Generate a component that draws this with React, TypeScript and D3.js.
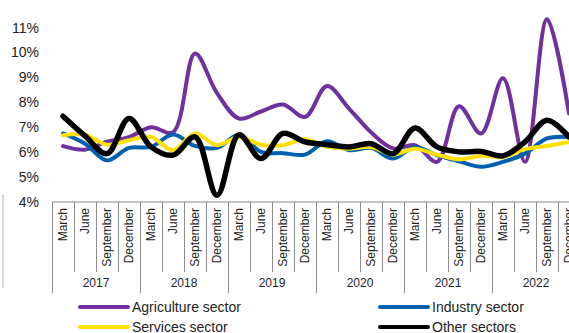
import React from "react";
import * as d3 from "d3";

const years = ["2017", "2018", "2019", "2020", "2021", "2022"];
const quarters = ["March", "June", "September", "December"];
const yTicks = [4, 5, 6, 7, 8, 9, 10, 11];

const agriculture = [6.24, 6.1, 6.42, 6.6, 7.0, 6.8, 9.96, 8.37, 7.35, 7.63, 7.91, 7.41, 8.65, 7.75, 6.8, 6.15, 6.28, 5.61, 7.84, 6.75, 8.96, 5.61, 11.33, 7.55];
const industry = [6.75, 6.34, 5.67, 6.17, 6.21, 6.71, 6.25, 6.17, 6.7, 6.01, 5.96, 5.9, 6.44, 6.08, 6.17, 5.74, 6.21, 5.88, 5.63, 5.41, 5.61, 5.94, 6.55, 6.61];
const services = [6.68, 6.7, 6.3, 6.48, 6.61, 6.08, 6.75, 6.28, 6.61, 6.3, 6.28, 6.52, 6.21, 6.14, 6.21, 5.9, 6.14, 5.9, 5.71, 5.85, 5.8, 6.12, 6.25, 6.41];
const other = [7.44, 6.65, 5.94, 7.35, 6.21, 5.88, 6.61, 4.27, 6.7, 5.74, 6.75, 6.41, 6.3, 6.21, 6.34, 5.94, 6.97, 6.21, 6.01, 6.03, 5.85, 6.41, 7.28, 6.61];

const seriesNames = ["Agriculture sector", "Industry sector", "Services sector", "Other sectors"];
const seriesColors = ["#7030A0", "#0060B0", "#FFE000", "#000000"];
const seriesWidths = [4, 4, 4, 5.5];
const seriesData = [agriculture, industry, services, other];

const FONT = "'Liberation Sans', Arial, sans-serif";

export default function App() {
  const W = 569, H = 333;
  const left = 52, cell = 22;
  const n = years.length * quarters.length;
  const x = d3.scaleLinear().domain([0, n]).range([left, left + cell * n]);
  const y = d3.scaleLinear().domain([4, 11]).range([202, 27.5]);
  const axisY = y(4);
  const line = d3
    .line<number>()
    .x((_, i) => x(i + 0.5))
    .y((d) => y(d))
    .curve(d3.curveCatmullRom.alpha(0.5));
  const grey = "#8c8c8c";

  const legendItems = [
    { name: seriesNames[0], color: seriesColors[0], lx: 80, ly: 307 },
    { name: seriesNames[1], color: seriesColors[1], lx: 380, ly: 307 },
    { name: seriesNames[2], color: seriesColors[2], lx: 80, ly: 327 },
    { name: seriesNames[3], color: seriesColors[3], lx: 380, ly: 327 },
  ];

  return (
    <div style={{ position: "fixed", left: 0, top: 0 }}>
      <svg width={W} height={H} style={{ display: "block", background: "#fff" }} fontFamily={FONT}>
        {/* left outer border fragment */}
        <line x1={3} x2={3} y1={195} y2={288} stroke="#b0b0b0" strokeWidth={1} />
        {/* y tick labels */}
        {yTicks.map((t) => (
          <text key={t} x={39} y={y(t)} textAnchor="end" dominantBaseline="central" fontSize={14} fill="#222">
            {t}%
          </text>
        ))}
        {/* category axis */}
        <line x1={left} x2={W + 20} y1={axisY} y2={axisY} stroke={grey} strokeWidth={1} />
        {d3.range(n + 1).map((i) => (
          <line
            key={"v" + i}
            x1={Math.round(x(i)) + 0.5}
            x2={Math.round(x(i)) + 0.5}
            y1={axisY}
            y2={i % 4 === 0 ? 293 : 272}
            stroke={grey}
            strokeWidth={1}
          />
        ))}
        {d3.range(n).map((i) => (
          <text
            key={"m" + i}
            transform={`translate(${x(i + 0.5)},${208}) rotate(-90)`}
            textAnchor="end"
            dominantBaseline="central"
            fontSize={12}
            fill="#222"
          >
            {quarters[i % 4]}
          </text>
        ))}
        {years.map((yr, k) => (
          <text key={yr} x={x(k * 4 + 2)} y={287} textAnchor="middle" fontSize={12} fill="#222">
            {yr}
          </text>
        ))}
        {/* series */}
        {seriesData.map((d, k) => (
          <path
            key={seriesNames[k]}
            d={line(d) || ""}
            fill="none"
            stroke={seriesColors[k]}
            strokeWidth={seriesWidths[k]}
            strokeLinecap="round"
            strokeLinejoin="round"
          />
        ))}
        {/* legend */}
        {legendItems.map((it) => (
          <g key={it.name}>
            <line x1={it.lx} x2={it.lx + 48} y1={it.ly} y2={it.ly} stroke={it.color} strokeWidth={4} strokeLinecap="round" />
            <text x={it.lx + 52} y={it.ly} dominantBaseline="central" fontSize={14} fill="#222">
              {it.name}
            </text>
          </g>
        ))}
      </svg>
    </div>
  );
}
